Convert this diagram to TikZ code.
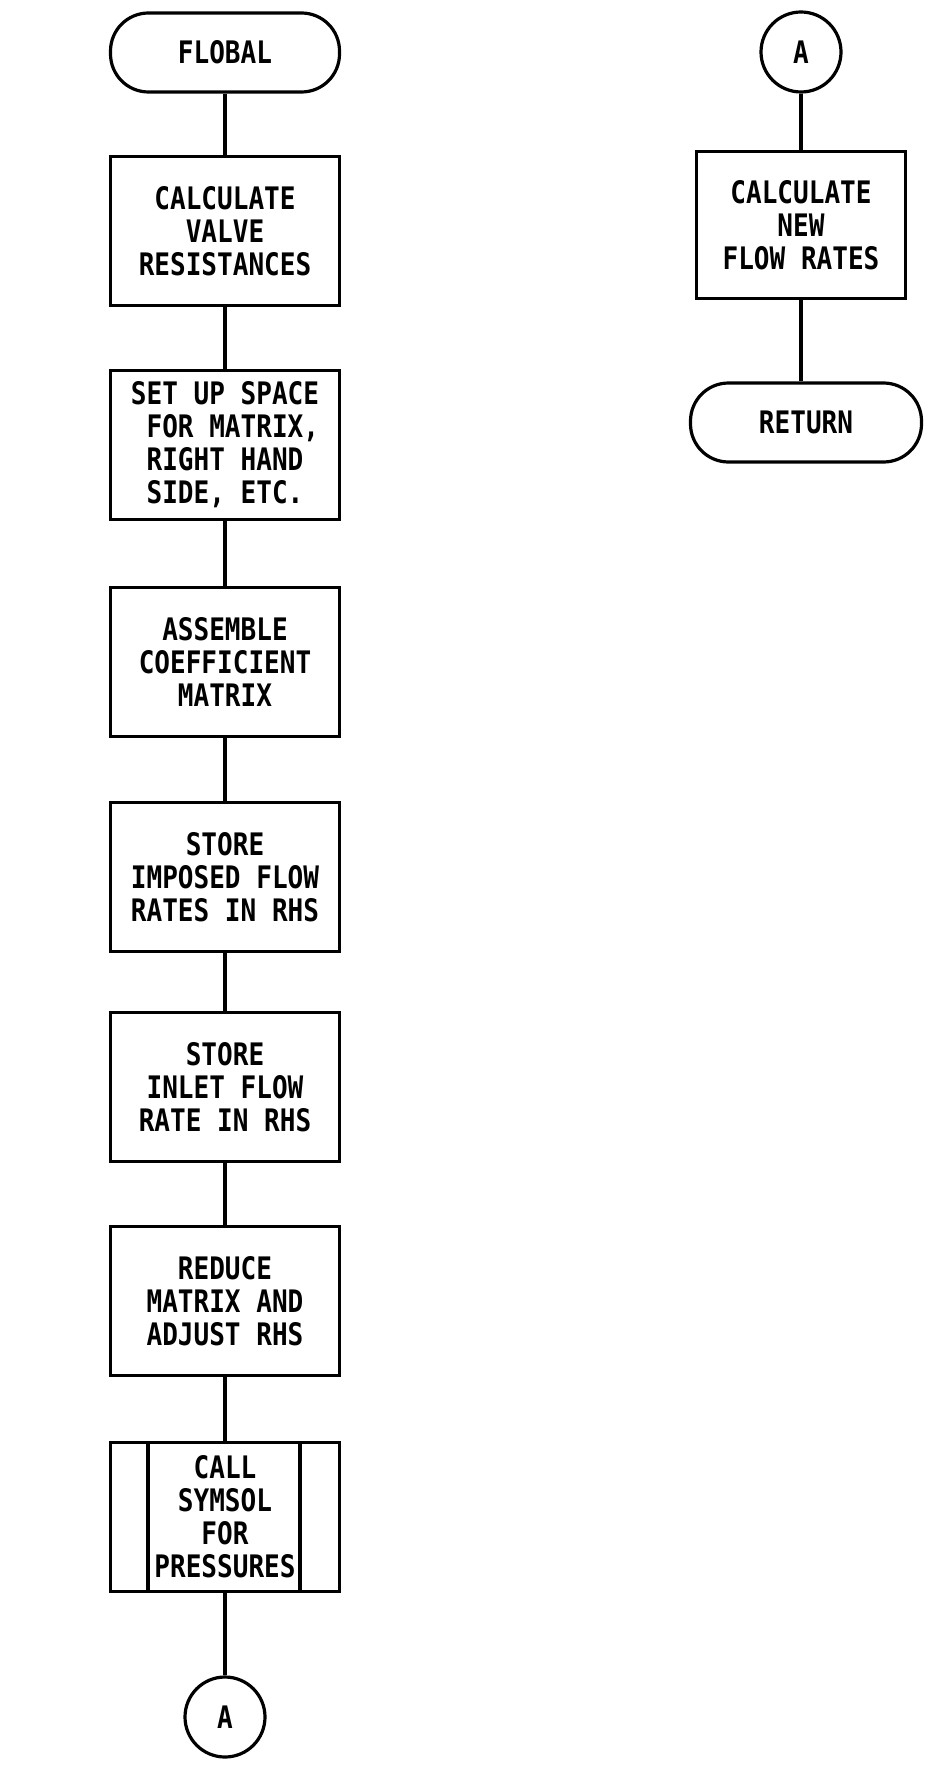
\documentclass[tikz,border=0pt]{standalone}
\usepackage{fontspec}
\newfontfamily\fcfont[FakeStretch=0.84]{DejaVu Sans Mono}
\begin{document}
\begin{tikzpicture}[x=1pt,y=-1pt,
  base/.style={draw, line width=3.2pt, font=\fcfont\bfseries\fontsize{31}{33}\selectfont, align=center, inner sep=0pt},
  proc/.style={base, rectangle, minimum width=229pt, minimum height=149pt},
  term/.style={base, rectangle, rounded corners=38pt, minimum width=229pt, minimum height=79pt},
  conn/.style={base, circle, minimum size=80pt},
  link/.style={line width=3.2pt}]
\useasboundingbox (0,0) rectangle (927,1768);
% left column
\node[term] (start) at (225,52.5) {FLOBAL};
\node[proc] (b1) at (225,231) {CALCULATE\\VALVE\\RESISTANCES};
\node[proc, align=left] (b2) at (225,445) {SET UP SPACE\\\ FOR MATRIX,\\\ RIGHT HAND\\\ SIDE, ETC.};
\node[proc] (b3) at (225,662) {ASSEMBLE\\COEFFICIENT\\MATRIX};
\node[proc] (b4) at (225,877) {STORE\\IMPOSED FLOW\\RATES IN RHS};
\node[proc] (b5) at (225,1087) {STORE\\INLET FLOW\\RATE IN RHS};
\node[proc] (b6) at (225,1301) {REDUCE\\MATRIX AND\\ADJUST RHS};
\node[proc] (b7) at (225,1517) {CALL\\SYMSOL\\FOR\\PRESSURES};
\draw[link] ([xshift=-77pt]b7.north) -- ([xshift=-77pt]b7.south);
\draw[link] ([xshift=75pt]b7.north) -- ([xshift=75pt]b7.south);
\node[conn] (a1) at (225,1717) {A};
\draw[link] (start) -- (b1);
\draw[link] (b1) -- (b2);
\draw[link] (b2) -- (b3);
\draw[link] (b3) -- (b4);
\draw[link] (b4) -- (b5);
\draw[link] (b5) -- (b6);
\draw[link] (b6) -- (b7);
\draw[link] (b7) -- (a1);
% right column
\node[conn] (a2) at (801,52) {A};
\node[proc, minimum width=209pt, minimum height=147pt] (r1) at (801,225) {CALCULATE\\NEW\\FLOW RATES};
\node[term, minimum width=231pt] (ret) at (806,422.5) {RETURN};
\draw[link] (a2) -- (r1);
\draw[link] (r1.south) -- (r1.south |- ret.north);
\end{tikzpicture}
\end{document}
